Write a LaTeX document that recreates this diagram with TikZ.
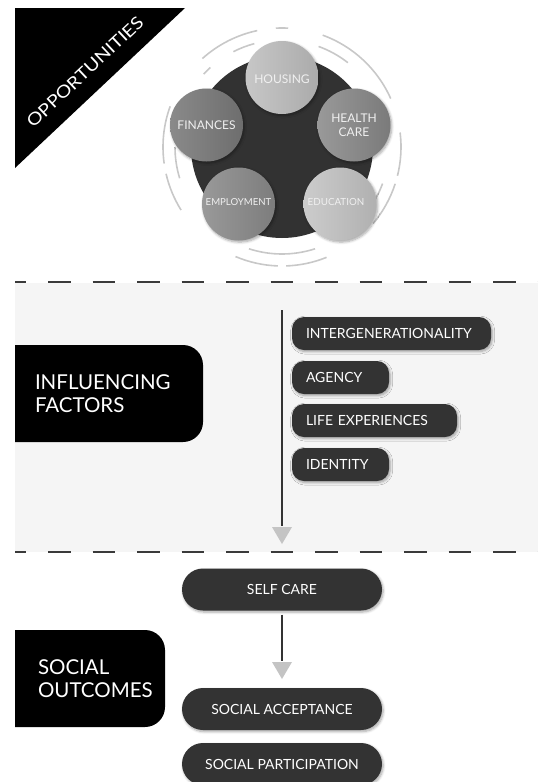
\documentclass[tikz,border=0pt]{standalone}
\usepackage{fontspec}
\setmainfont{Lato}
\usetikzlibrary{shadows.blur}

\definecolor{pill}{HTML}{333333}
\definecolor{band}{HTML}{F5F5F5}
\definecolor{arcgrey}{HTML}{C8C8C8}
\definecolor{dashgrey}{HTML}{3A3A3A}
\definecolor{hub}{HTML}{323232}
\definecolor{tipgrey}{HTML}{C4C4C4}

\begin{document}
\begin{tikzpicture}[x=1pt,y=-1pt,
  every node/.style={inner sep=0pt, outer sep=0pt},
  softshadow/.style={blur shadow={shadow xshift=1.2pt, shadow yshift=-1.6pt,
      shadow blur steps=6, shadow blur radius=2.5pt, shadow opacity=35}},
  factor/.style={fill=pill, text=white, rounded corners=12pt,
      minimum height=33pt, inner xsep=14pt, align=left, anchor=north west,
      font=\fontsize{14}{16}\selectfont, softshadow},
  outcome/.style={fill=pill, text=white, rounded corners=21pt,
      minimum width=200pt, minimum height=42pt,
      font=\fontsize{14}{16}\selectfont, softshadow},
  header/.style={fill=black, rounded corners=20pt, anchor=north west},
  headtext/.style={text=white, align=left, anchor=north west,
      font=\fontsize{20.5}{23}\selectfont},
  topic/.style={circle, minimum size=73pt, softshadow},
  topiclabel/.style={text=white!94!black, align=center,
      font=\fontsize{12}{14.5}\selectfont},
  arcline/.style={draw=arcgrey, line width=1.6pt},
  rule/.style={draw=dashgrey, line width=2pt, dash pattern=on 22.5pt off 22pt},
  stem/.style={draw=pill, line width=1.8pt},
  tip/.style={fill=tipgrey}
]
\useasboundingbox (0,0) rectangle (538,782);
\clip (15,0) rectangle (538,782);

% ---------- opportunities banner ----------
\fill[black] (15,8) -- (185,8) -- (15,168) -- cycle;
\node[rotate=43.3, text=white, font=\fontsize{17}{17}\selectfont] (opp)
  at (85,72) {\scalebox{1.16}[1]{OPPORTUNITIES}};

% ---------- ring of opportunity circles ----------
\coordinate (ctr) at (282,147);
\foreach \a/\b in {87/93, 102/132, 160/188, 193/212, 247/268, 272/292,
                   320/342, 346/367, 24/70}
  \draw[arcline] ([shift={(-\a:119)}]ctr) arc[start angle=-\a, end angle=-\b, radius=119];
\foreach \a/\b in {52/70, 105/117, 132/137, 180/197, 325/340, 252/288}
  \draw[arcline] ([shift={(-\a:107)}]ctr) arc[start angle=-\a, end angle=-\b, radius=107];

\fill[hub] (ctr) circle[radius=91];

\node[topic, left color=black!22, right color=black!33] (housing) at (282,77.5) {};
\node[topic, left color=black!40, right color=black!52] (health) at (354,125) {};
\node[topic, left color=black!20, right color=black!31] (education) at (340,204) {};
\node[topic, left color=black!40, right color=black!51] (employment) at (238.5,204) {};
\node[topic, left color=black!46, right color=black!57] (finances) at (206.5,125) {};

\node[topiclabel] (housingtext) at ([yshift=-2pt]housing.center) {HOUSING};
\node[topiclabel] (healthtext) at (health.center) {HEALTH\\CARE};
\node[topiclabel, font=\fontsize{9.8}{12}\selectfont] (educationtext)
  at ([xshift=-4pt,yshift=2pt]education.center) {EDUCATION};
\node[topiclabel, font=\fontsize{9.6}{12}\selectfont] (employmenttext)
  at ([yshift=2pt]employment.center) {EMPLOYMENT};
\node[topiclabel] (financestext) at (finances.center) {FINANCES};

% ---------- influencing factors band ----------
\fill[band] (15,283) rectangle (538,552);
\draw[rule] (3.7,282) -- (545,282);
\draw[rule] (3.7,552) -- (545,552);

\node[header, minimum width=213pt, minimum height=97pt] (infbox) at (-10,345) {};
\node[headtext] (inftext) at (35,375) {INFLUENCING\\FACTORS};

\node[factor, text width=171pt] (interg) at (292,317) {INTERGENERATIONALITY};
\node[factor, text width=69pt]  (agency) at (292,361) {AGENCY};
\node[factor, text width=137pt] (life)   at (292,404) {LIFE EXPERIENCES};
\node[factor, text width=69pt]  (ident)  at (292,448) {IDENTITY};

\coordinate (flowtop) at (282,310);
\coordinate (tipA) at (282,527);
\draw[stem] (flowtop) -- ([yshift=1pt]tipA);
\fill[tip] ([xshift=-10pt]tipA) -- ([xshift=10pt]tipA) -- ([yshift=-17pt]tipA) -- cycle;

% ---------- social outcomes ----------
\node[header, minimum width=175pt, minimum height=97pt] (outbox) at (-10,630) {};
\node[headtext] (outtext) at (38,660) {SOCIAL\\OUTCOMES};

\node[outcome] (selfcare) at (282,589.5) {SELF CARE};
\node[outcome] (accept)   at (282,709)   {SOCIAL ACCEPTANCE};
\node[outcome] (partic)   at (282,764)   {SOCIAL PARTICIPATION};

\coordinate (tipB) at (282,662);
\draw[stem] ([yshift=-4pt]selfcare.south) -- ([yshift=1pt]tipB);
\fill[tip] ([xshift=-10pt]tipB) -- ([xshift=10pt]tipB) -- ([yshift=-17pt]tipB) -- cycle;
\end{tikzpicture}
\end{document}
